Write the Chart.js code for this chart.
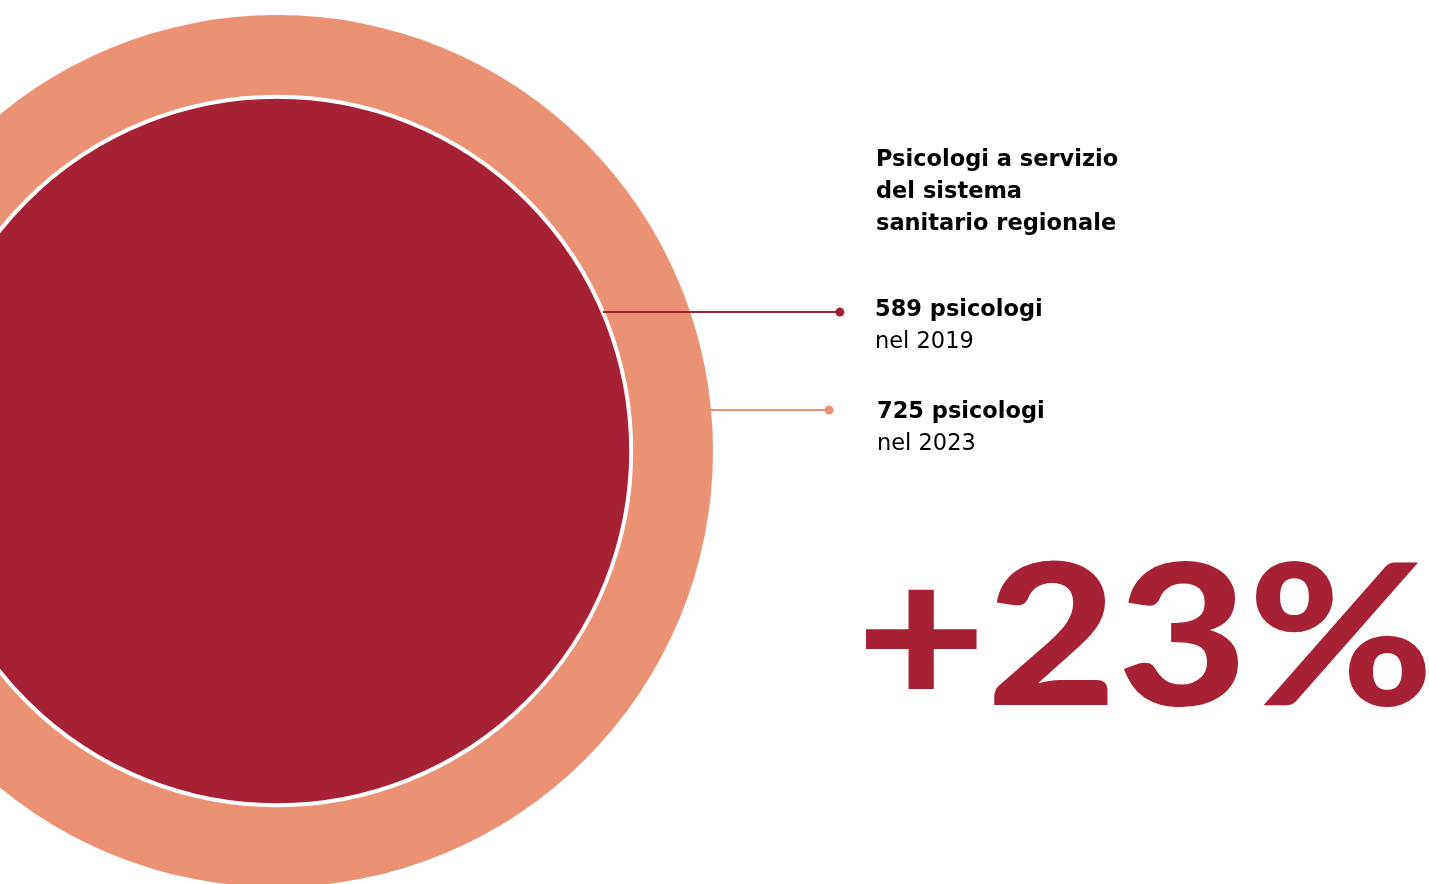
<!DOCTYPE html>
<html lang="it">
<head>
<meta charset="utf-8">
<title>Psicologi a servizio del sistema sanitario regionale</title>
<script src="https://cdn.jsdelivr.net/npm/chart.js@4.4.1/dist/chart.umd.min.js"></script>
<style>
  html, body { margin: 0; padding: 0; background: #fff; }
  .wrap { position: relative; width: 1429px; height: 884px; overflow: hidden; font-family: 'DejaVu Sans', sans-serif; color: #000; }
  #chart { position: absolute; left: 0; top: 0; }
  .txt { position: absolute; font-size: 22.5px; line-height: 32px; white-space: nowrap; }
  .title { left: 876px; top: 142px; font-weight: 700; }
  .lab b { font-weight: 700; }
  .lab1 { left: 875px; top: 292px; }
  .lab2 { left: 877px; top: 394px; }
  .big { position: absolute; left: 856px; top: 532px; font-family: Lato, sans-serif; font-size: 196px; line-height: 196px; font-weight: 900; color: #a62134; white-space: nowrap; transform-origin: 0 0; }
</style>
</head>
<body>
<div class="wrap">
  <canvas id="chart" width="1429" height="884"></canvas>
  <div class="txt title">Psicologi a servizio<br>del sistema<br>sanitario regionale</div>
  <div class="txt lab lab1" id="lab0"></div>
  <div class="txt lab lab2" id="lab1"></div>
  <div class="big"><span id="big"></span></div>
</div>
<script>
// data
const years = ['2019', '2023'];
const psicologi = [589, 725];
const seriesColors = ['#a62134', '#ec9274'];

// layout (pixels / data units)
const W = 1429, H = 884;
const CENTER = { x: 277, y: 451 };
const PX_PER_UNIT = 436 / 725;
const leaderY = [231, 68];      // height of each leader line, data units
const leaderEndX = [936, 918];  // where each leader ends, data units
const BIG_WIDTH = 578;

const pct = Math.round((psicologi[1] / psicologi[0] - 1) * 100);

years.forEach((y, i) => {
  document.getElementById('lab' + i).innerHTML = `<b>${psicologi[i]} psicologi</b><br>nel ${y}`;
});
const big = document.getElementById('big');
big.textContent = '+' + pct + '%';
const bigW = big.getBoundingClientRect().width;
big.parentElement.style.transform = `scaleX(${BIG_WIDTH / bigW})`;

// bubble radius in pixels = value measured along the x scale
const radiusFromValue = (ctx) => {
  const opts = ctx.chart.options.scales.x;
  return ctx.raw.v * ctx.chart.width / (opts.max - opts.min);
};

// circles: smaller order is drawn on top
const bubbleSets = psicologi.map((v, i) => ({
  type: 'bubble',
  label: years[i],
  data: [{ x: 0, y: 0, v: v }],
  backgroundColor: seriesColors[i],
  borderColor: '#ffffff',
  borderWidth: i === 0 ? 4 : 0,
  radius: radiusFromValue,
  clip: false,
  order: 2 + i
}));

const leaderSets = psicologi.map((v, i) => ({
  type: 'line',
  label: 'leader ' + years[i],
  data: [
    { x: Math.sqrt(v * v - leaderY[i] * leaderY[i]), y: leaderY[i] },
    { x: leaderEndX[i], y: leaderY[i] }
  ],
  borderColor: seriesColors[i],
  borderWidth: 2,
  pointRadius: [0, 4.5],
  pointBackgroundColor: seriesColors[i],
  pointBorderWidth: 0,
  clip: false,
  order: 0
}));

new Chart(document.getElementById('chart').getContext('2d'), {
  type: 'bubble',
  data: { datasets: [...bubbleSets, ...leaderSets] },
  options: {
    responsive: false,
    animation: false,
    events: [],
    layout: { padding: 0, autoPadding: false },
    plugins: { legend: { display: false }, tooltip: { enabled: false } },
    scales: {
      x: {
        type: 'linear', display: false,
        min: -CENTER.x / PX_PER_UNIT,
        max: (W - CENTER.x) / PX_PER_UNIT
      },
      y: {
        type: 'linear', display: false,
        min: -(H - CENTER.y) / PX_PER_UNIT,
        max: CENTER.y / PX_PER_UNIT
      }
    }
  }
});
</script>
</body>
</html>
